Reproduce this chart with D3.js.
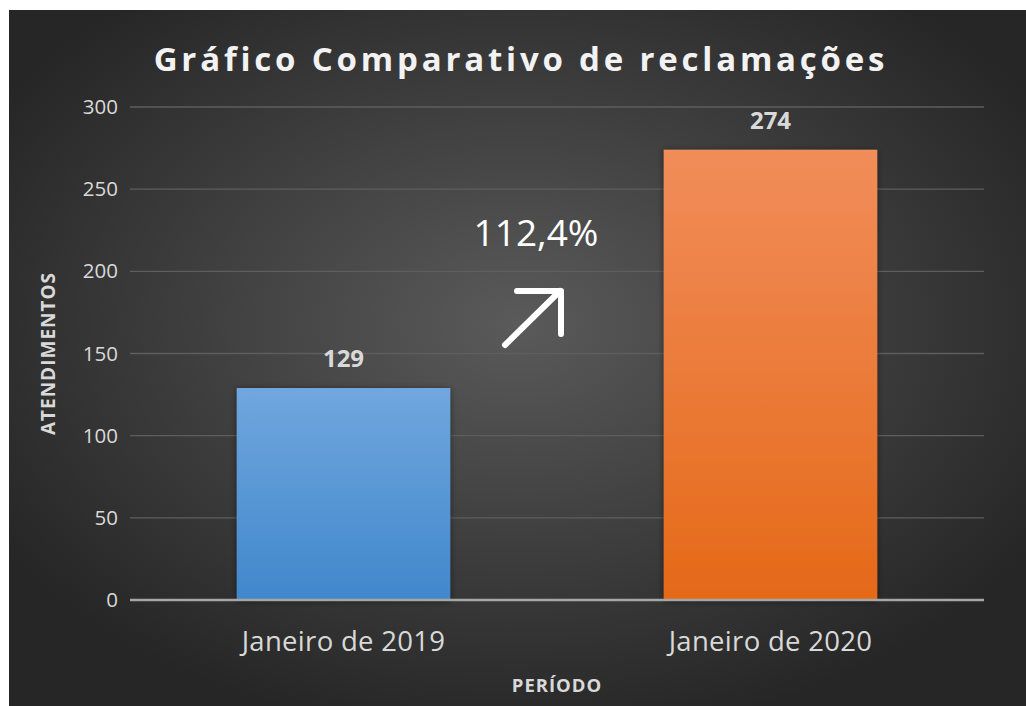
<!DOCTYPE html>
<html>
<head>
<meta charset="utf-8">
<script src="https://cdn.jsdelivr.net/npm/d3@7"></script>
<style>
  body { margin: 0; background: #fff; }
  svg { display: block; font-family: "Open Sans", "Noto Sans", sans-serif; }
</style>
</head>
<body>
<svg width="1026" height="706"></svg>
<script>
// data
const categories = ["Janeiro de 2019", "Janeiro de 2020"];
const values = [129, 274];
const yTicks = [0, 50, 100, 150, 200, 250, 300];
const growthLabel = "112,4%";

var svg = d3.select("svg");

var defs = svg.append("defs");
var bg = defs.append("radialGradient").attr("id", "bg")
    .attr("cx", "50%").attr("cy", "45%").attr("r", "60%");
bg.append("stop").attr("offset", "0%").attr("stop-color", "#5a5a5a");
bg.append("stop").attr("offset", "100%").attr("stop-color", "#262626");

var gradColors = [["#70a7de", "#4187cc"], ["#f18d5a", "#e56918"]];
gradColors.forEach(function(c, i) {
  var lg = defs.append("linearGradient").attr("id", "bar" + i)
      .attr("x1", 0).attr("y1", 0).attr("x2", 0).attr("y2", 1);
  lg.append("stop").attr("offset", "0%").attr("stop-color", c[0]);
  lg.append("stop").attr("offset", "100%").attr("stop-color", c[1]);
});
var f = defs.append("filter").attr("id", "shadow")
    .attr("x", "-10%").attr("y", "-10%").attr("width", "120%").attr("height", "120%");
f.append("feDropShadow").attr("dx", 0).attr("dy", 1).attr("stdDeviation", 3)
    .attr("flood-color", "#000").attr("flood-opacity", 0.5);

// chart area background
svg.append("rect").attr("x", 9).attr("y", 10).attr("width", 1017).attr("height", 696)
    .attr("fill", "url(#bg)");

var plot = { left: 130, right: 984, top: 107, bottom: 600 };

var x = d3.scaleBand()
    .domain(categories)
    .range([plot.left, plot.right])
    .paddingInner(0.5)
    .paddingOuter(0.25);

var y = d3.scaleLinear()
    .domain([0, 300])
    .range([plot.bottom, plot.top]);

// gridlines
svg.append("g").selectAll("line")
  .data(yTicks.filter(d => d > 0))
  .join("line")
    .attr("x1", plot.left).attr("x2", plot.right)
    .attr("y1", d => y(d)).attr("y2", d => y(d))
    .attr("stroke", "#5e5e5e").attr("stroke-width", 1.3);

// y axis labels
var yAxis = svg.append("g")
    .attr("transform", "translate(" + (plot.left - 12) + ",0)")
    .call(d3.axisLeft(y).tickValues(yTicks).tickSize(0).tickPadding(0));
yAxis.select(".domain").remove();
yAxis.selectAll("text")
    .attr("fill", "#d9d9d9").attr("font-size", 20.5).attr("font-family", "Open Sans");

// bars
svg.append("g").selectAll("rect")
  .data(values)
  .join("rect")
    .attr("x", (d, i) => x(categories[i]))
    .attr("y", d => y(d))
    .attr("width", x.bandwidth())
    .attr("height", d => y(0) - y(d))
    .attr("fill", (d, i) => "url(#bar" + i + ")")
    .attr("filter", "url(#shadow)");

// baseline
svg.append("line")
    .attr("x1", plot.left).attr("x2", plot.right)
    .attr("y1", y(0)).attr("y2", y(0))
    .attr("stroke", "#a6a6a6").attr("stroke-width", 2.5);

// value labels
svg.append("g").selectAll("text")
  .data(values)
  .join("text")
    .attr("x", (d, i) => x(categories[i]) + x.bandwidth() / 2)
    .attr("y", d => y(d) - 21)
    .attr("text-anchor", "middle")
    .attr("fill", "#d9d9d9").attr("font-weight", "bold").attr("font-size", 24)
    .text(d => d);

// x axis labels
var xAxis = svg.append("g")
    .attr("transform", "translate(0," + y(0) + ")")
    .call(d3.axisBottom(x).tickSize(0).tickPadding(0));
xAxis.select(".domain").remove();
xAxis.selectAll("text")
    .attr("dy", 0).attr("y", 51)
    .attr("fill", "#d9d9d9").attr("font-size", 27.5).attr("font-family", "Open Sans")
    .attr("letter-spacing", 0.3);

// axis titles
svg.append("text")
    .attr("x", (plot.left + plot.right) / 2).attr("y", 692)
    .attr("text-anchor", "middle")
    .attr("fill", "#d9d9d9").attr("font-weight", "bold").attr("font-size", 18.5)
    .attr("letter-spacing", 1)
    .text("PERÍODO");

svg.append("text")
    .attr("transform", "translate(55," + ((plot.top + plot.bottom) / 2) + ") rotate(-90)")
    .attr("text-anchor", "middle")
    .attr("fill", "#d9d9d9").attr("font-weight", "bold").attr("font-size", 19)
    .attr("letter-spacing", 1)
    .text("ATENDIMENTOS");

// title
svg.append("text")
    .attr("x", 521).attr("y", 71)
    .attr("text-anchor", "middle")
    .attr("fill", "#f2f2f2").attr("font-weight", "bold").attr("font-size", 33)
    .attr("letter-spacing", 3.8)
    .text("Gráfico Comparativo de reclamações");

// growth annotation
svg.append("text")
    .attr("x", 536).attr("y", 246)
    .attr("text-anchor", "middle")
    .attr("fill", "#ffffff").attr("font-size", 37)
    .text(growthLabel);

var arrow = svg.append("g")
    .attr("stroke", "#ffffff").attr("stroke-width", 6)
    .attr("stroke-linecap", "round").attr("stroke-linejoin", "round").attr("fill", "none");
arrow.append("line").attr("x1", 505).attr("y1", 345).attr("x2", 560).attr("y2", 291);
arrow.append("polyline").attr("points", "517,291 561,291 561,334");
</script>
</body>
</html>
